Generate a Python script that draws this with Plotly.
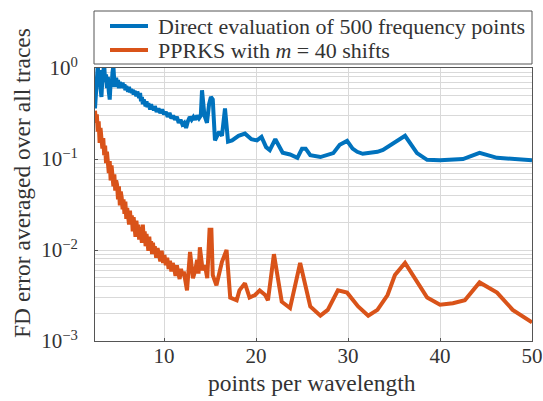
import plotly.graph_objects as go

# ---- data ----
direct_x = [2.5, 2.6, 2.7, 2.8, 2.9, 3.0, 3.1, 3.2, 3.3, 3.4, 3.5, 3.6, 3.7, 3.8, 3.9, 4.0,
            4.1, 4.2, 4.3, 4.4, 4.5, 4.6, 4.7, 4.8, 4.9, 5.0, 5.1, 5.2, 5.3, 5.4, 5.5, 5.6,
            5.7, 5.8, 5.9, 6.0, 6.1, 6.2, 6.3, 6.4, 6.5, 6.6, 6.7, 6.8, 6.9, 7.0, 7.1, 7.2,
            7.3, 7.4, 7.5, 7.6, 7.7, 7.8, 7.9, 8.0, 8.1, 8.2, 8.3, 8.4, 8.5, 8.6, 8.7, 8.8,
            8.9, 9.0, 9.2, 9.4, 9.6, 9.8, 10.0, 10.2, 10.4, 10.6, 10.8, 11.0, 11.2, 11.4,
            11.6, 11.8, 12.0, 12.2, 12.4, 12.6, 12.8, 13.0, 13.2, 13.4, 13.6, 13.8, 14.0,
            14.13, 14.4, 14.67, 14.9, 15.1, 15.3, 15.54, 16.0, 16.3, 16.63, 16.96, 17.4,
            18.1, 18.8, 19.5, 20.1, 20.6, 21.1, 21.5, 22.1, 22.9, 23.7, 24.5, 25.0, 25.4,
            25.9, 27.0, 28.4, 29.1, 29.9, 30.5, 31.0, 31.6, 33.2, 33.8, 34.9, 36.2, 37.5,
            38.6, 40.0, 42.5, 44.3, 46.2, 50.0]
direct_err = [0.36, 0.6, 0.85, 1.05, 0.8, 0.95, 0.6, 0.48, 0.75, 0.9, 1.1, 0.7, 0.85, 0.6, 0.8, 0.55,
              0.45, 0.7, 0.62, 0.9, 1.05, 0.7, 0.62, 0.78, 0.66, 0.74, 0.6, 0.7, 0.67, 0.61, 0.69, 0.6,
              0.66, 0.57, 0.63, 0.6, 0.55, 0.62, 0.54, 0.59, 0.53, 0.58, 0.51, 0.56, 0.53, 0.49, 0.55, 0.5,
              0.47, 0.53, 0.43, 0.48, 0.40, 0.45, 0.42, 0.38, 0.43, 0.37, 0.41, 0.39, 0.35, 0.40, 0.36, 0.38,
              0.34, 0.38, 0.33, 0.36, 0.32, 0.35, 0.31, 0.33, 0.29, 0.32, 0.28, 0.30, 0.27, 0.29,
              0.25, 0.27, 0.24, 0.25, 0.22, 0.26, 0.29, 0.27, 0.29, 0.27, 0.30, 0.28, 0.30,
              0.57, 0.30, 0.25, 0.40, 0.48, 0.45, 0.16, 0.20, 0.18, 0.36, 0.155, 0.16,
              0.18, 0.19, 0.165, 0.16, 0.175, 0.135, 0.125, 0.165, 0.117, 0.112, 0.103, 0.13, 0.13,
              0.11, 0.105, 0.116, 0.143, 0.158, 0.13, 0.12, 0.114, 0.12, 0.126, 0.15, 0.18, 0.116,
              0.098, 0.097, 0.10, 0.117, 0.103, 0.097]

pprks_x = [2.5, 2.6, 2.7, 2.8, 2.9, 3.0, 3.1, 3.2, 3.3, 3.4, 3.5, 3.6, 3.7, 3.8, 3.9, 4.0,
           4.1, 4.2, 4.3, 4.4, 4.5, 4.6, 4.7, 4.8, 4.9, 5.0, 5.1, 5.2, 5.3, 5.4, 5.5, 5.6,
           5.7, 5.8, 5.9, 6.0, 6.1, 6.2, 6.3, 6.4, 6.5, 6.6, 6.7, 6.8, 6.9, 7.0, 7.1, 7.2,
           7.3, 7.4, 7.5, 7.6, 7.7, 7.8, 7.9, 8.0, 8.1, 8.2, 8.3, 8.4, 8.5, 8.6, 8.7, 8.8,
           8.9, 9.0, 9.15, 9.3, 9.45, 9.6, 9.75, 9.9, 10.05, 10.2, 10.35, 10.5, 10.65, 10.8,
           10.95, 11.1, 11.25, 11.4, 11.55, 11.7, 11.85, 12.0, 12.15, 12.3, 12.5, 12.83,
           13.15, 13.4, 13.6, 13.75, 13.9, 14.2, 14.45, 14.7, 14.95, 15.15, 15.3, 15.7,
           16.3, 16.8, 17.2, 17.9, 18.2, 18.8, 19.3, 19.9, 20.4, 21.0,
           21.3, 21.95, 22.8, 23.7, 24.8, 25.9, 27.0, 27.8, 28.9, 29.9, 31.1, 32.2, 33.2,
           34.3, 35.1, 36.2, 37.5, 38.6, 40.0, 41.4, 42.7, 44.3, 46.2, 47.9, 50.0]
pprks_err = [0.34, 0.25, 0.31, 0.2, 0.26, 0.15, 0.22, 0.16, 0.13, 0.17, 0.11, 0.14, 0.09, 0.12, 0.1, 0.07,
             0.095, 0.058, 0.085, 0.07, 0.05, 0.068, 0.045, 0.058, 0.052, 0.036, 0.05, 0.031, 0.044, 0.038, 0.028, 0.036,
             0.025, 0.034, 0.022, 0.029, 0.025, 0.019, 0.027, 0.02, 0.024, 0.016, 0.023, 0.019, 0.014, 0.021, 0.016, 0.019,
             0.013, 0.018, 0.015, 0.012, 0.019, 0.013, 0.016, 0.011, 0.015, 0.0125, 0.0098, 0.014, 0.0105, 0.0125, 0.009, 0.012,
             0.0095, 0.011, 0.0082, 0.0105, 0.0088, 0.0075, 0.0098, 0.0072, 0.0088, 0.0068, 0.0082, 0.0062, 0.0076, 0.0058,
             0.0072, 0.0064, 0.0052, 0.0068, 0.0056, 0.0048, 0.0062, 0.0052, 0.0058, 0.0047, 0.0036, 0.0095,
             0.0049, 0.006, 0.0078, 0.0055, 0.0107, 0.006, 0.0068, 0.0049, 0.0167, 0.0167, 0.0053, 0.0041,
             0.0074, 0.010, 0.003, 0.0028, 0.0036, 0.0043, 0.003, 0.0032, 0.0036, 0.0032,
             0.0028, 0.009, 0.0027, 0.0023, 0.0072, 0.0024, 0.0019, 0.0022, 0.0036, 0.0034, 0.0024, 0.0019, 0.0022,
             0.0032, 0.0053, 0.0072, 0.0044, 0.003, 0.0025, 0.0026, 0.0028, 0.0044, 0.0034, 0.0022, 0.0016]

series_names = ["Direct evaluation of 500 frequency points", "PPRKS with <i>m</i> = 40 shifts"]
series_colors = ["#0072BD", "#D95319"]

x_ticks = [10, 20, 30, 40, 50]
y_ticks = [0.001, 0.01, 0.1, 1]
y_ticktext = ["10<sup>\u22123</sup>", "10<sup>\u22122</sup>", "10<sup>\u22121</sup>", "10<sup>0</sup>"]

x_title = "points per wavelength"
y_title = "FD error averaged over all traces"

FONT = "Liberation Serif"
TXT = "#333333"
W, H = 543, 401
L, R, T, B = 95, 11, 68, 60
PW, PH = W - L - R, H - T - B


def px_x(p):  # pixel column -> paper x
    return (p - L) / PW


def px_y(p):  # pixel row -> paper y
    return (H - B - p) / PH


fig = go.Figure()
for xs, ys, nm, col in [(direct_x, direct_err, series_names[0], series_colors[0]),
                        (pprks_x, pprks_err, series_names[1], series_colors[1])]:
    fig.add_trace(go.Scatter(x=xs, y=ys, mode="lines", name=nm,
                             line=dict(color=col, width=4), showlegend=False))

shapes = [dict(type="rect", xref="paper", yref="paper",
               x0=px_x(94), x1=px_x(532), y0=px_y(64), y1=px_y(11),
               line=dict(color="#555555", width=1), fillcolor="white", layer="above")]
annotations = []
for i, (nm, col) in enumerate(zip(series_names, series_colors)):
    row = [26, 50][i]
    shapes.append(dict(type="line", xref="paper", yref="paper",
                       x0=px_x(110), x1=px_x(148), y0=px_y(row), y1=px_y(row),
                       line=dict(color=col, width=4), layer="above"))
    annotations.append(dict(text=nm, xref="paper", yref="paper",
                            x=px_x(156), y=px_y(row), xanchor="left", yanchor="middle",
                            showarrow=False, font=dict(family=FONT, size=22, color=TXT)))

annotations.append(dict(text=x_title, xref="paper", yref="paper",
                        x=px_x(312), y=px_y(383), xanchor="center", yanchor="middle",
                        showarrow=False, font=dict(family=FONT, size=23.5, color=TXT)))
annotations.append(dict(text=y_title, xref="paper", yref="paper", textangle=-90,
                        x=px_x(22), y=px_y(183), xanchor="center", yanchor="middle",
                        showarrow=False, font=dict(family=FONT, size=23.5, color=TXT)))

fig.update_layout(
    width=W, height=H,
    margin=dict(l=L, r=R, t=T, b=B, autoexpand=False),
    paper_bgcolor="white", plot_bgcolor="white",
    font=dict(family=FONT, size=20, color=TXT),
    showlegend=False,
    shapes=shapes, annotations=annotations,
)
fig.update_xaxes(range=[2.5, 50], tickvals=x_ticks, ticktext=[str(v) for v in x_ticks],
                 showgrid=True, gridcolor="#d9d9d9", gridwidth=1,
                 showline=True, linecolor="#555555", linewidth=1, mirror=True,
                 ticks="inside", ticklen=3, tickcolor="#555555",
                 zeroline=False, automargin=False, ticklabelstandoff=-4,
                 tickfont=dict(family=FONT, size=21, color=TXT))
fig.update_yaxes(type="log", range=[-3, 0], tickvals=y_ticks, ticktext=y_ticktext,
                 showgrid=True, gridcolor="#d9d9d9", gridwidth=1,
                 minor=dict(showgrid=True, gridcolor="#d9d9d9", gridwidth=1, dtick="D1"),
                 showline=True, linecolor="#555555", linewidth=1, mirror=True,
                 ticks="inside", ticklen=3, tickcolor="#555555",
                 zeroline=False, automargin=False, ticklabelstandoff=12,
                 tickfont=dict(family=FONT, size=21, color=TXT))

fig.write_html("out.html", config={"displayModeBar": False},
               post_script="document.body.style.margin='0px';")
